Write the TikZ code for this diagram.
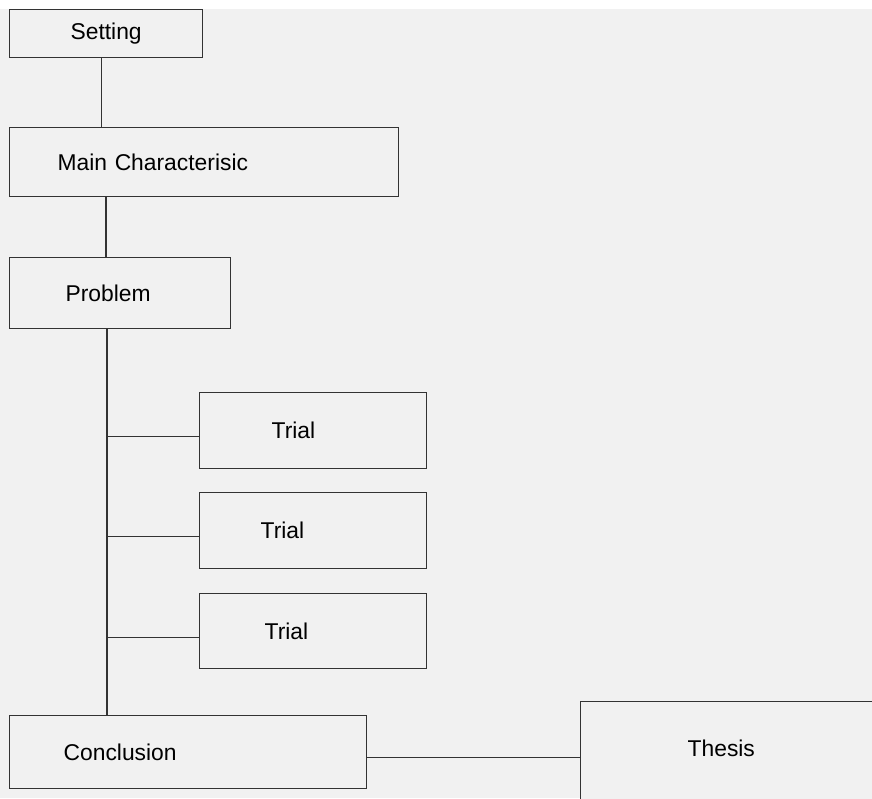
\documentclass[tikz,border=0pt]{standalone}
\usepackage{fontspec}
\setmainfont{Liberation Sans}
\usepackage{tikz}
\usetikzlibrary{positioning}
\usetikzlibrary{calc}
\definecolor{bggray}{HTML}{F1F1F1}
\definecolor{edgegray}{HTML}{333333}

\tikzset{
    stage/.style={draw=edgegray, fill=bggray, anchor=north west, inner ysep=0pt,
        align=left, font=\fontsize{13}{15}\selectfont},
    link/.style={draw=edgegray}
}

\begin{document}
\begin{tikzpicture}[x=0.02cm, y=-0.02cm, line width=0.75pt]
    \useasboundingbox (0,0) rectangle (872,798);
    \fill[bggray] (0,9) rectangle (872,798);

    \node[stage, align=center, text width=3.26cm, inner xsep=0.3cm,
        minimum height=0.96cm] (setting) at (9,9) {Setting};
    \node[stage, text width=5.86cm, inner xsep=0.96cm,
        minimum height=1.38cm] (main) at (9,127) {Main Characterisic};
    \node[stage, text width=2.18cm, inner xsep=1.12cm,
        minimum height=1.42cm] (problem) at (9,257) {Problem};

    \node[stage, text width=1.66cm, inner xsep=1.44cm,
        minimum height=1.52cm] (trial1) at (199,392) {Trial};
    \node[stage, text width=2.10cm, inner xsep=1.22cm,
        minimum height=1.52cm] (trial2) at (199,492) {Trial};
    \node[stage, text width=1.94cm, inner xsep=1.30cm,
        minimum height=1.50cm] (trial3) at (199,593) {Trial};

    \node[stage, text width=4.98cm, inner xsep=1.08cm,
        minimum height=1.46cm] (conclusion) at (9,715) {Conclusion};
    \node[stage, text width=2.12cm, inner xsep=2.14cm, text depth=0.34cm,
        minimum height=2.2cm] (thesis) at (580,701) {Thesis};

    % vertical links
    \draw[link] ([xshift=-0.09cm]setting.south) -- ([xshift=-0.09cm]setting.south |- main.north);
    \draw[link] ([xshift=1.94cm]main.south west) -- ([xshift=1.94cm]main.south west |- problem.north);

    \coordinate (spine) at ([xshift=1.96cm]problem.south west);
    \draw[link] (spine) -- (spine |- conclusion.north);

    \foreach \t in {trial1,trial2,trial3} {
        \path ([yshift=-0.12cm]\t.west) coordinate (b);
        \draw[link] (b -| spine) -- (b);
    }

    \path ([yshift=-0.11cm]conclusion.east) coordinate (c);
    \draw[link] (c) -- (c -| thesis.west);
\end{tikzpicture}
\end{document}
